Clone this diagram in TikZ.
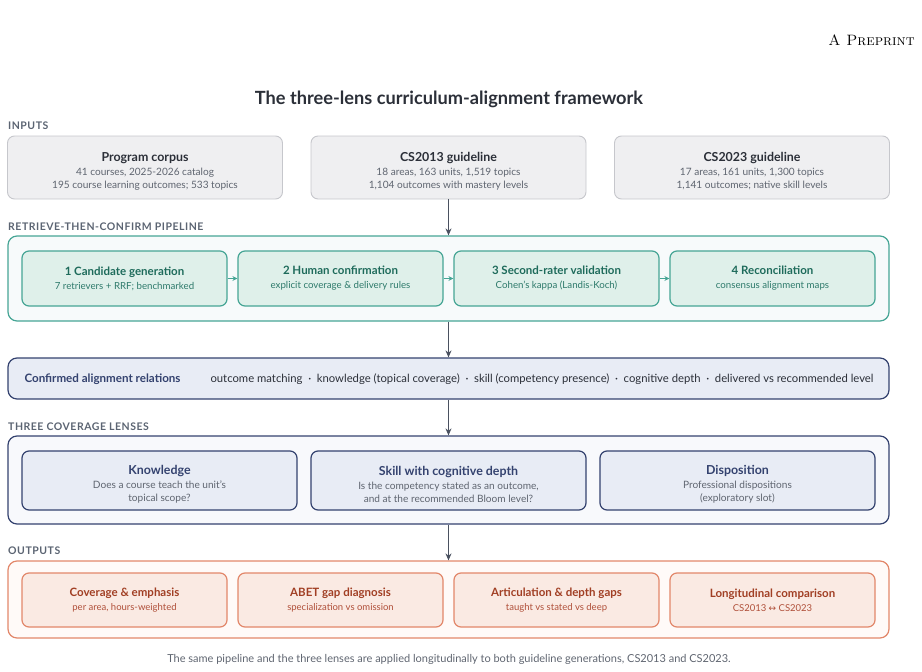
\documentclass[tikz,border=0pt]{standalone}
\usepackage{fontspec}
\setsansfont{Lato}
\newfontfamily\arrowfont{DejaVu Sans}
\usetikzlibrary{arrows.meta}
\definecolor{inkgray}{HTML}{4A5160}
\definecolor{titlecol}{HTML}{2B2F38}
\definecolor{labgray}{HTML}{5B6472}
\definecolor{subgray}{HTML}{5F6570}
\definecolor{ingray}{HTML}{EFEFF1}
\definecolor{inedge}{HTML}{C6C7CC}
\definecolor{tealedge}{HTML}{46A595}
\definecolor{tealfill}{HTML}{DFF0EA}
\definecolor{tealtext}{HTML}{1E6B5B}
\definecolor{tealsub}{HTML}{2E7A6B}
\definecolor{tealbg}{HTML}{F7FAFB}
\definecolor{lensedge}{HTML}{34426F}
\definecolor{lensfill}{HTML}{E8ECF5}
\definecolor{lensbg}{HTML}{F8F9FC}
\definecolor{outedge}{HTML}{E2876A}
\definecolor{outfill}{HTML}{FAEAE3}
\definecolor{outbg}{HTML}{FFFAF8}
\definecolor{outtext}{HTML}{A13F24}
\definecolor{outsub}{HTML}{B0503A}
% titles: big for inputs and lenses, smaller for pipeline and outputs
\def\boxhd#1{{\fontsize{12.4}{15}\selectfont\bfseries\rule{0pt}{17pt}#1}}
\def\stephd#1{{\fontsize{11.5}{14}\selectfont\bfseries #1}}
\def\midsep{\enspace\textperiodcentered\enspace}

\begin{document}
\begin{tikzpicture}[x=1pt,y=-1pt,
    boxfont/.style={font=\sffamily\fontsize{10.1}{13}\selectfont, align=center},
    seclab/.style={anchor=west, inner sep=0pt, text=labgray, font=\sffamily\bfseries\fontsize{10.5}{12}\selectfont\addfontfeature{LetterSpace=5}},
    inbox/.style={boxfont, draw=inedge, fill=ingray, line width=0.9pt, rounded corners=7pt, minimum width=275pt, minimum height=63pt, text=subgray},
    stagebox/.style={boxfont, font=\sffamily\fontsize{9.7}{13}\selectfont, draw=tealedge, fill=tealfill, line width=1.2pt, rounded corners=7pt, minimum width=205pt, minimum height=55pt, text=tealsub},
    lensbox/.style={boxfont, draw=lensedge, fill=lensfill, line width=1.2pt, rounded corners=7pt, minimum width=275pt, minimum height=59pt, text=subgray},
    outbox/.style={boxfont, font=\sffamily\fontsize{9.5}{13}\selectfont, draw=outedge, fill=outfill, line width=1.2pt, rounded corners=7pt, minimum width=205pt, minimum height=54pt, text=outsub},
    frame/.style={line width=1.2pt, rounded corners=9pt, minimum width=881pt},
    flow/.style={-{Stealth[length=7pt,width=6pt]}, line width=1.3pt, draw=inkgray},
    hop/.style={-{Stealth[length=5pt,width=5pt]}, line width=1.2pt, draw=tealedge}]
    \useasboundingbox (0,0) rectangle (922,672);

    \node[anchor=east, inner sep=0pt, font=\rmfamily\fontsize{15}{17}\selectfont] (hdr) at (915,40) {\textsc{A Preprint}};
    \node[text=titlecol, font=\sffamily\bfseries\fontsize{18.2}{22}\selectfont] (ttl) at (449,99) {The three-lens curriculum-alignment framework};

    % inputs
    \node[seclab] (labin) at (8,126) {INPUTS};
    \node[inbox] (corpus) at (145,167.5) {\textcolor{titlecol}{\boxhd{Program corpus}}\\[1pt] 41 courses, 2025-2026 catalog\\ 195 course learning outcomes; 533 topics};
    \node[inbox, right of=corpus, node distance=303.5pt] (cs13) {\textcolor{titlecol}{\boxhd{CS2013 guideline}}\\[1pt] 18 areas, 163 units, 1,519 topics\\ 1,104 outcomes with mastery levels};
    \node[inbox, right of=cs13, node distance=303.5pt] (cs23) {\textcolor{titlecol}{\boxhd{CS2023 guideline}}\\[1pt] 17 areas, 161 units, 1,300 topics\\ 1,141 outcomes; native skill levels};

    % pipeline
    \node[seclab] (labpipe) at (8,227) {RETRIEVE-THEN-CONFIRM PIPELINE};
    \node[frame, draw=tealedge, fill=tealbg, minimum height=85pt] (pipe) at (448.5,278.5) {};
    \node[stagebox] (cand) at (124.5,278.5) {\textcolor{tealtext}{\stephd{1 Candidate generation}}\\[1pt] 7 retrievers + RRF; benchmarked};
    \node[stagebox, right of=cand, node distance=216pt] (human) {\textcolor{tealtext}{\stephd{2 Human confirmation}}\\[1pt] explicit coverage \& delivery rules};
    \node[stagebox, right of=human, node distance=216pt] (second) {\textcolor{tealtext}{\stephd{3 Second-rater validation}}\\[1pt] Cohen's kappa (Landis-Koch)};
    \node[stagebox, right of=second, node distance=216pt] (recon) {\textcolor{tealtext}{\stephd{4 Reconciliation}}\\[1pt] consensus alignment maps};
    \draw[hop] (cand) -- (human);
    \draw[hop] (human) -- (second);
    \draw[hop] (second) -- (recon);

    % confirmed relations
    \node[frame, draw=lensedge, fill=lensfill, minimum height=41pt] (rel) at (448.5,378.5) {};
    \node[anchor=west, text=lensedge, font=\sffamily\bfseries\fontsize{11.6}{13}\selectfont] (relhd) at (21,379) {Confirmed alignment relations};
    \node[anchor=west, text=titlecol, font=\sffamily\fontsize{11.3}{13}\selectfont] (rellist) at (207,379) {outcome matching\midsep knowledge (topical coverage)\midsep skill (competency presence)\midsep cognitive depth\midsep delivered vs recommended level};

    % lenses
    \node[seclab] (lablens) at (8,427) {THREE COVERAGE LENSES};
    \node[frame, draw=lensedge, fill=lensbg, minimum height=88pt] (lens) at (448.5,480) {};
    \node[lensbox] (know) at (159.5,480.5) {\textcolor{lensedge}{\boxhd{Knowledge}}\\[1pt] Does a course teach the unit's\\ topical scope?};
    \node[lensbox, right of=know, node distance=289pt] (skill) {\textcolor{lensedge}{\boxhd{Skill with cognitive depth}}\\[1pt] Is the competency stated as an outcome,\\ and at the recommended Bloom level?};
    \node[lensbox, right of=skill, node distance=289pt] (dispo) {\textcolor{lensedge}{\boxhd{Disposition}}\\[1pt] Professional dispositions\\ (exploratory slot)};

    % outputs
    \node[seclab] (labout) at (8,551) {OUTPUTS};
    \node[frame, draw=outedge, fill=outbg, minimum height=77pt] (outs) at (448.5,599.5) {};
    \node[outbox] (cover) at (124.5,600) {\textcolor{outtext}{\stephd{Coverage \& emphasis}}\\[1pt] per area, hours-weighted};
    \node[outbox, right of=cover, node distance=216pt] (abet) {\textcolor{outtext}{\stephd{ABET gap diagnosis}}\\[1pt] specialization vs omission};
    \node[outbox, right of=abet, node distance=216pt] (artic) {\textcolor{outtext}{\stephd{Articulation \& depth gaps}}\\[1pt] taught vs stated vs deep};
    \node[outbox, right of=artic, node distance=216pt] (longi) {\textcolor{outtext}{\stephd{Longitudinal comparison}}\\[1pt] CS2013 {\arrowfont\fontsize{9}{10}\selectfont ↔} CS2023};

    \node[text=subgray, font=\sffamily\fontsize{11}{13}\selectfont] (capt) at (449,659) {The same pipeline and the three lenses are applied longitudinally to both guideline generations, CS2013 and CS2023.};

    % main flow
    \draw[flow] (cs13.south) -- (pipe.north);
    \draw[flow] (pipe.south) -- (rel.north);
    \draw[flow] (rel.south) -- (lens.north);
    \draw[flow] (lens.south) -- (outs.north);
\end{tikzpicture}
\end{document}
